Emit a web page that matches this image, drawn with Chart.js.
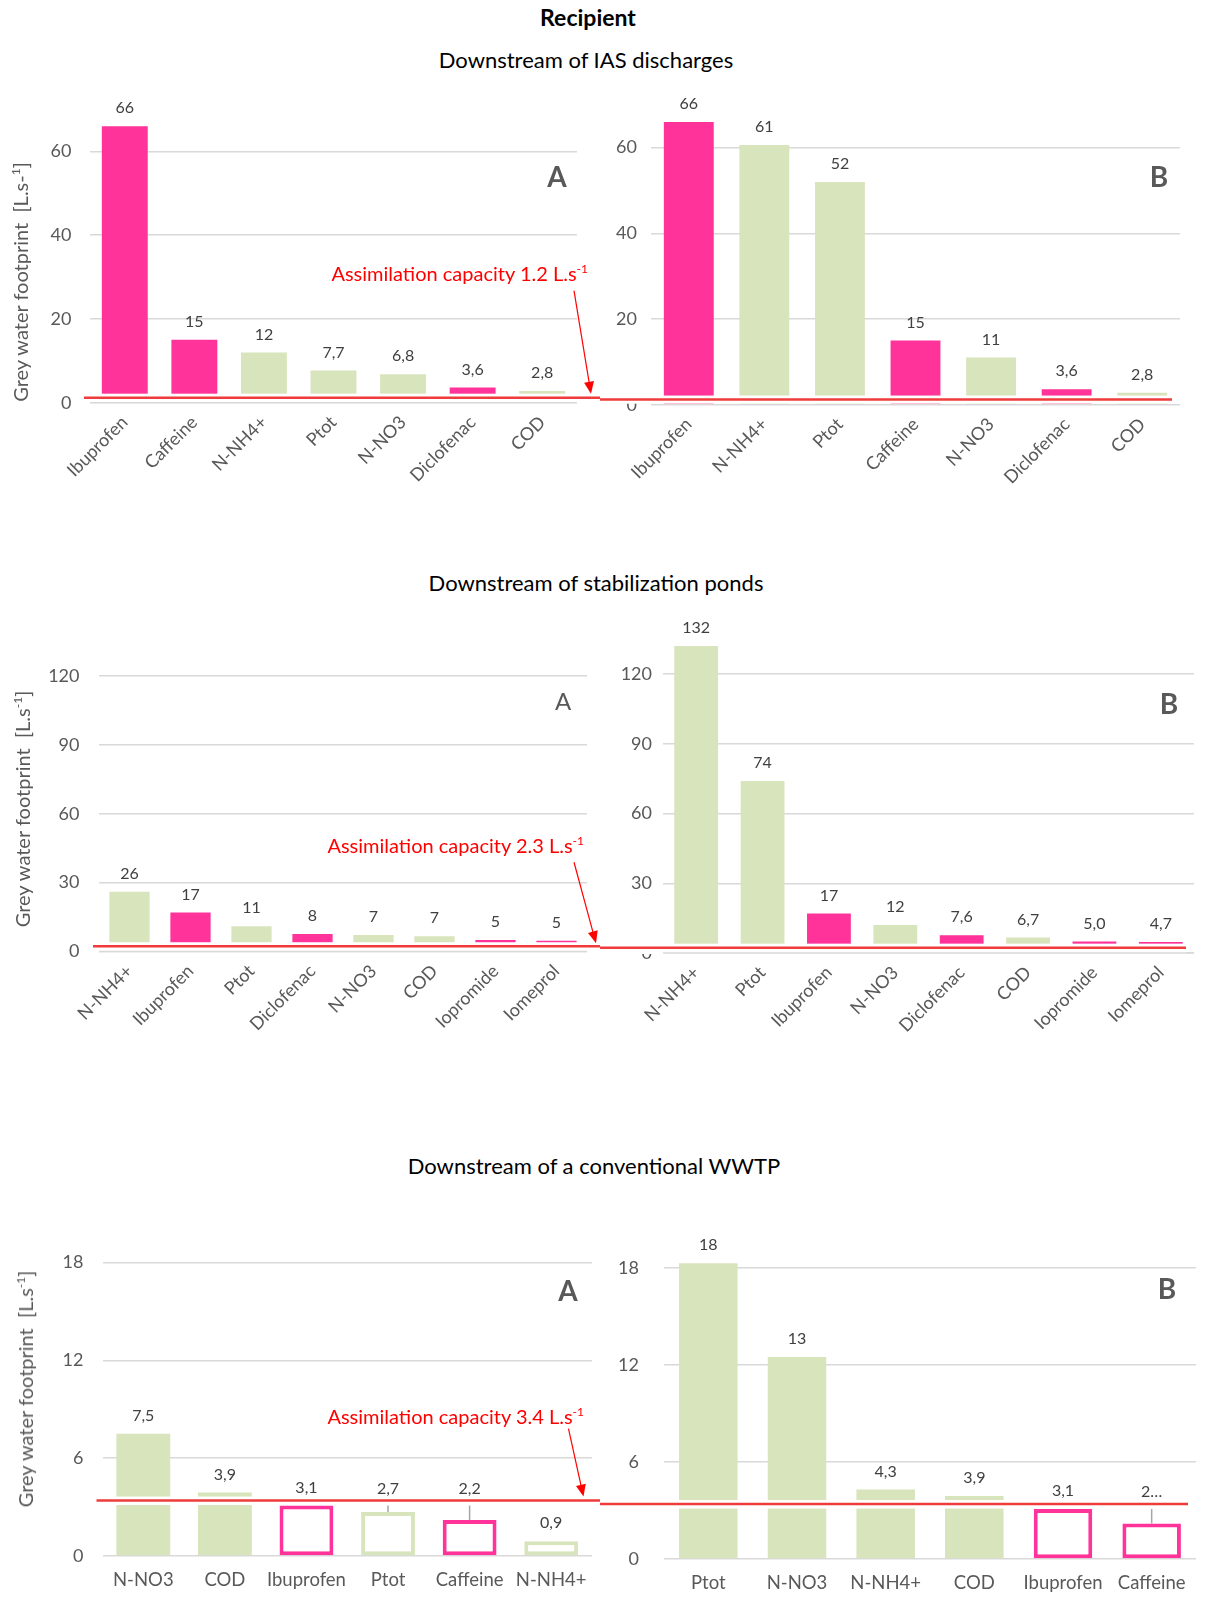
<!DOCTYPE html>
<html>
<head>
<meta charset="utf-8">
<title>Grey water footprint - Recipient</title>
<script src="https://cdn.jsdelivr.net/npm/chart.js@4.4.0/dist/chart.umd.min.js"></script>
<style>
  body { margin: 0; background: #fff; font-family: Lato, sans-serif; }
  #page { position: relative; width: 1205px; height: 1599px; overflow: hidden; }
  canvas { position: absolute; }
  .title { position: absolute; transform: translate(-50%, -50%); white-space: nowrap; font-size: 22px; color: #000; }
  .ytitle { position: absolute; transform: translate(-50%, -50%) rotate(-90deg); white-space: nowrap; font-size: 20px; color: #595959; }
  .cap { position: absolute; transform: translate(-100%, -50%); white-space: nowrap; font-size: 20px; color: #ff0000; }
  .letter { position: absolute; transform: translate(-50%, -50%); font-size: 28px; font-weight: bold; color: #595959; }
  sup { font-size: 0.6em; vertical-align: super; line-height: 0; }
</style>
</head>
<body>
<div id="page">
  <canvas id="iasA" width="600" height="420" style="left:0;top:80px"></canvas>
  <canvas id="iasB" width="605" height="420" style="left:600px;top:80px"></canvas>
  <canvas id="pondsA" width="600" height="450" style="left:0;top:600px"></canvas>
  <canvas id="pondsB" width="605" height="450" style="left:600px;top:600px"></canvas>
  <canvas id="wwtpA" width="600" height="399" style="left:0;top:1200px"></canvas>
  <canvas id="wwtpB" width="605" height="399" style="left:600px;top:1200px"></canvas>

  <div class="title" style="left:588px;top:17px;font-weight:bold;font-size:23px">Recipient</div>
  <div class="title" style="left:586px;top:59px">Downstream of IAS discharges</div>
  <div class="title" style="left:596px;top:582px">Downstream of stabilization ponds</div>
  <div class="title" style="left:594px;top:1165px">Downstream of a conventional WWTP</div>

  <div class="ytitle" style="left:20px;top:282px">Grey water footprint&nbsp; [L.s-<sup>1</sup>]</div>
  <div class="ytitle" style="left:22px;top:809px">Grey water footprint&nbsp; [L.s<sup>-1</sup>]</div>
  <div class="ytitle" style="left:25px;top:1389px">Grey water footprint&nbsp; [L.s<sup>-1</sup>]</div>

  <div class="cap" style="left:588px;top:273px">Assimilation capacity 1.2 L.s<sup>-1</sup></div>
  <div class="cap" style="left:584px;top:845px">Assimilation capacity 2.3 L.s<sup>-1</sup></div>
  <div class="cap" style="left:584px;top:1416px">Assimilation capacity 3.4 L.s<sup>-1</sup></div>

  <div class="letter" style="left:557px;top:176px">A</div>
  <div class="letter" style="left:1159px;top:176px">B</div>
  <div class="letter" style="left:563px;top:700px;font-weight:normal;font-size:24px">A</div>
  <div class="letter" style="left:1169px;top:703px">B</div>
  <div class="letter" style="left:568px;top:1290px">A</div>
  <div class="letter" style="left:1167px;top:1288px">B</div>
</div>

<script>
// Data
const pharmaceuticals = ['Ibuprofen', 'Caffeine', 'Diclofenac', 'Iopromide', 'Iomeprol'];

// Downstream of IAS discharges
const iasCapacity = 1.2;
const iasTicks = [0, 20, 40, 60];
const iasLabelsA = ['Ibuprofen', 'Caffeine', 'N-NH4+', 'Ptot', 'N-NO3', 'Diclofenac', 'COD'];
const iasValuesA = [66, 15, 12, 7.7, 6.8, 3.6, 2.8];
const iasLabelsB = ['Ibuprofen', 'N-NH4+', 'Ptot', 'Caffeine', 'N-NO3', 'Diclofenac', 'COD'];
const iasValuesB = [66, 60.6, 52, 15, 11, 3.6, 2.8];

// Downstream of stabilization ponds
const pondsCapacity = 2.3;
const pondsTicks = [0, 30, 60, 90, 120];
const pondsLabelsA = ['N-NH4+', 'Ibuprofen', 'Ptot', 'Diclofenac', 'N-NO3', 'COD', 'Iopromide', 'Iomeprol'];
const pondsValuesA = [26, 17, 11, 7.6, 7.2, 6.7, 5.0, 4.7];
const pondsLabelsB = ['N-NH4+', 'Ptot', 'Ibuprofen', 'N-NO3', 'Diclofenac', 'COD', 'Iopromide', 'Iomeprol'];
const pondsValuesB = [132, 74, 17, 12, 7.6, 6.7, 5.0, 4.7];

// Downstream of a conventional WWTP
const wwtpCapacity = 3.4;
const wwtpTicks = [0, 6, 12, 18];
const wwtpLabelsA = ['N-NO3', 'COD', 'Ibuprofen', 'Ptot', 'Caffeine', 'N-NH4+'];
const wwtpValuesA = [7.5, 3.9, 3.1, 2.7, 2.2, 0.9];
const wwtpLabelsB = ['Ptot', 'N-NO3', 'N-NH4+', 'COD', 'Ibuprofen', 'Caffeine'];
const wwtpValuesB = [18.3, 12.5, 4.3, 3.9, 3.1, 2.2];
const wwtpTextsB = ['18', '13', '4,3', '3,9', '3,1', '2…'];

const PINK = '#ff3399';
const GREEN = '#d8e4bc';
const GRID = '#d9d9d9';

Chart.defaults.font.family = 'Lato, sans-serif';

function formatValue(v, integerOnly) {
  if (integerOnly || v >= 10) return String(Math.round(v));
  return v.toFixed(1).replace('.', ',');
}

// Assimilation capacity line, white gap, value labels and arrow
const capacityPlugin = {
  id: 'capacity',
  afterDatasetsDraw(chart, args, o) {
    const ctx = chart.ctx;
    const area = chart.chartArea;
    const y = chart.scales.y;
    const lineY = y.getPixelForValue(o.value);
    const zeroY = y.getPixelForValue(0);
    const x0 = o.side === 'left' ? area.left - 6 : 0;
    const x1 = o.side === 'left' ? chart.width : area.right - 8;

    ctx.save();
    // white gap around the line (or everything under it)
    ctx.fillStyle = '#ffffff';
    const bandTop = lineY - 4;
    const bandBottom = o.coverBelow ? zeroY + 1 : Math.min(lineY + 4.5, zeroY - 1);
    ctx.fillRect(x0, bandTop, x1 - x0, bandBottom - bandTop);
    if (o.coverBelow) {
      ctx.strokeStyle = GRID;
      ctx.lineWidth = 1.5;
      ctx.beginPath();
      ctx.moveTo(area.left, zeroY);
      ctx.lineTo(area.right, zeroY);
      ctx.stroke();
    }

    // red line
    ctx.strokeStyle = '#ef3b3b';
    ctx.lineWidth = 2.5;
    ctx.beginPath();
    ctx.moveTo(x0, lineY);
    ctx.lineTo(x1, lineY);
    ctx.stroke();

    // value labels
    const values = chart.data.datasets[0].data;
    const meta = chart.getDatasetMeta(0);
    ctx.font = '16px Lato, sans-serif';
    ctx.fillStyle = '#404040';
    ctx.textAlign = 'center';
    ctx.textBaseline = 'middle';
    meta.data.forEach(function(bar, i) {
      const text = o.texts ? o.texts[i] : formatValue(values[i], o.integerLabels);
      let ty = bar.y - 18;
      let lifted = false;
      if (ty + 8 > bandTop && ty - 8 < lineY + 4.5) {
        ty = lineY - 12;
        lifted = true;
      }
      ctx.fillText(text, bar.x, ty);
      if (lifted && bar.y - (lineY + 5) > 3) {
        ctx.strokeStyle = '#a6a6a6';
        ctx.lineWidth = 1.5;
        ctx.beginPath();
        ctx.moveTo(bar.x, lineY + 5);
        ctx.lineTo(bar.x, bar.y);
        ctx.stroke();
      }
    });

    // arrow from the caption to the line
    if (o.arrow) {
      const a = o.arrow;
      const sx = area.right + a.dx0, sy = lineY + a.dy0;
      const ex = area.right + a.dx1, ey = lineY + a.dy1;
      const ang = Math.atan2(ey - sy, ex - sx);
      ctx.strokeStyle = '#ff0000';
      ctx.fillStyle = '#ff0000';
      ctx.lineWidth = 1.2;
      ctx.beginPath();
      ctx.moveTo(sx, sy);
      ctx.lineTo(ex - 10 * Math.cos(ang), ey - 10 * Math.sin(ang));
      ctx.stroke();
      ctx.beginPath();
      ctx.moveTo(ex, ey);
      ctx.lineTo(ex - 12 * Math.cos(ang) + 5 * Math.sin(ang), ey - 12 * Math.sin(ang) - 5 * Math.cos(ang));
      ctx.lineTo(ex - 12 * Math.cos(ang) - 5 * Math.sin(ang), ey - 12 * Math.sin(ang) + 5 * Math.cos(ang));
      ctx.closePath();
      ctx.fill();
    }
    ctx.restore();
  }
};

function buildPanel(id, labels, values, ticks, capacity, o) {
  const colors = labels.map(l => pharmaceuticals.includes(l) ? PINK : GREEN);
  const hollow = values.map(v => v < capacity);

  return new Chart(document.getElementById(id), {
    type: 'bar',
    data: {
      labels: labels,
      datasets: [{
        data: values,
        backgroundColor: colors.map((c, i) => hollow[i] ? '#ffffff' : c),
        borderColor: colors,
        borderWidth: hollow.map(h => h ? 4 : 0),
        borderSkipped: false,
        barPercentage: 0.66,
        categoryPercentage: 1
      }]
    },
    options: {
      responsive: false,
      animation: false,
      layout: {
        padding: { left: 0, right: o.padRight, top: o.padTop, bottom: 0 }
      },
      plugins: {
        legend: { display: false },
        tooltip: { enabled: false },
        capacity: {
          value: capacity,
          side: o.side,
          arrow: o.arrow || null,
          coverBelow: !!o.coverBelow,
          integerLabels: !!o.integerLabels,
          texts: o.texts || null
        }
      },
      scales: {
        x: {
          grid: { display: false, drawTicks: false },
          border: { display: false },
          ticks: {
            autoSkip: false,
            color: '#595959',
            font: { size: o.rotate ? 18 : 18.5 },
            minRotation: o.rotate ? 45 : 0,
            maxRotation: o.rotate ? 45 : 0,
            padding: o.rotate ? 9 : 13
          },
          afterFit: function(scale) { scale.height = o.xHeight; }
        },
        y: {
          min: 0,
          max: o.max,
          grid: { color: GRID, lineWidth: 1.5, drawTicks: false },
          border: { display: false },
          ticks: {
            color: '#595959',
            font: { size: 18 },
            padding: o.tickPad
          },
          afterBuildTicks: function(scale) {
            scale.ticks = ticks.map(v => ({ value: v }));
          },
          afterFit: function(scale) { scale.width = o.yWidth; }
        }
      }
    },
    plugins: [capacityPlugin]
  });
}

buildPanel('iasA', iasLabelsA, iasValuesA, iasTicks, iasCapacity, {
  max: 70, yWidth: 90, xHeight: 97.3, padTop: 24, padRight: 23, tickPad: 18.6,
  rotate: true, side: 'left', coverBelow: true,
  arrow: { dx0: -3, dy0: -107, dx1: 14, dy1: -4 }
});
buildPanel('iasB', iasLabelsB, iasValuesB, iasTicks, iasCapacity, {
  max: 70, yWidth: 51, xHeight: 95.3, padTop: 23.8, padRight: 25, tickPad: 14,
  rotate: true, side: 'right'
});
buildPanel('pondsA', pondsLabelsA, pondsValuesA, pondsTicks, pondsCapacity, {
  max: 140, yWidth: 99, xHeight: 98.5, padTop: 28.3, padRight: 13, tickPad: 19.5,
  rotate: true, side: 'left', integerLabels: true, coverBelow: true,
  arrow: { dx0: -13, dy0: -84, dx1: 9, dy1: -3 }
});
buildPanel('pondsB', pondsLabelsB, pondsValuesB, pondsTicks, pondsCapacity, {
  max: 140, yWidth: 63, xHeight: 97, padTop: 27.5, padRight: 11, tickPad: 11,
  rotate: true, side: 'right', coverBelow: true
});
buildPanel('wwtpA', wwtpLabelsA, wwtpValuesA, wwtpTicks, wwtpCapacity, {
  max: 20, yWidth: 102.5, xHeight: 43, padTop: 22, padRight: 5.5, tickPad: 19,
  rotate: false, side: 'left',
  arrow: { dx0: -23.5, dy0: -72, dx1: -8.5, dy1: -4 }
});
buildPanel('wwtpB', wwtpLabelsB, wwtpValuesB, wwtpTicks, wwtpCapacity, {
  max: 20, yWidth: 64, xHeight: 40, padTop: 24.6, padRight: 9, tickPad: 25,
  rotate: false, side: 'right', texts: wwtpTextsB
});
</script>
</body>
</html>
